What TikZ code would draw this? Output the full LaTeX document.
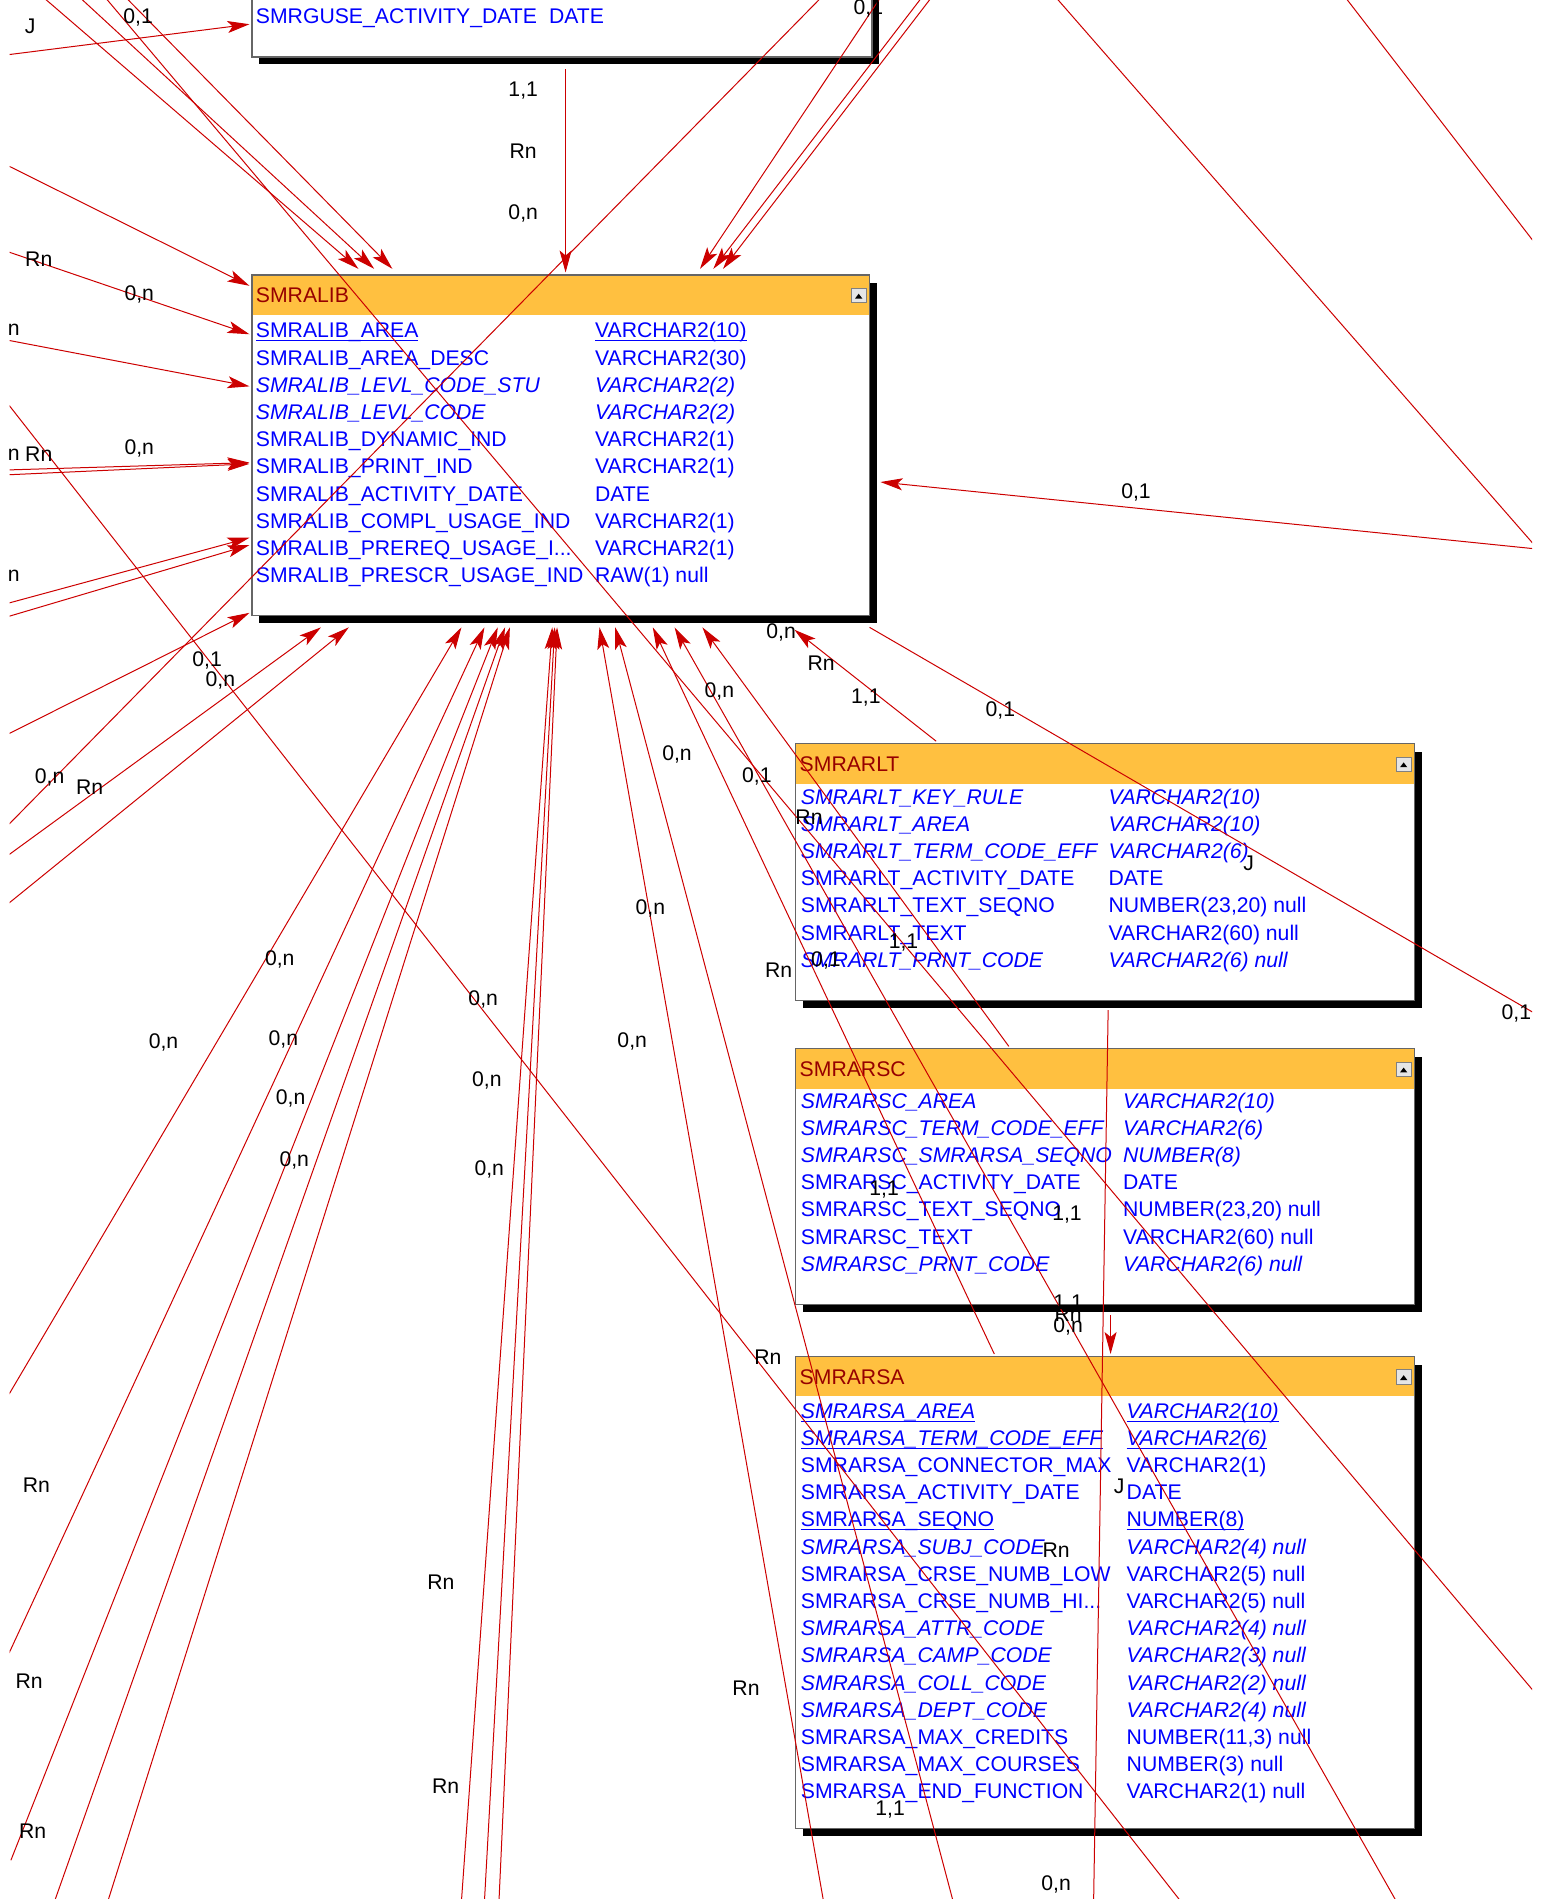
\documentclass[tikz,border=0pt]{standalone}
\usepackage{fontspec}
\setmainfont{Liberation Sans}
\usetikzlibrary{arrows.meta,fit}

\definecolor{hdrfill}{RGB}{255,192,64}
\definecolor{hdrtext}{RGB}{150,0,0}
\definecolor{fldtext}{RGB}{0,0,255}
\definecolor{relline}{RGB}{204,0,0}

\newcommand{\erfont}{\fontsize{10.6}{12}\selectfont}
\newcommand{\cut}{{.}{.}{.}}
\newcommand{\keyul}[1]{\underline{\smash{#1}}}

\tikzset{
  tblbody/.style={fill=white, inner sep=0pt},
  tblname/.style={anchor=base west, inner sep=0pt, text=hdrtext, font=\erfont},
  fld/.style={anchor=base west, inner sep=0pt, text=fldtext, font=\erfont},
  card/.style={inner sep=0pt, font=\erfont},
  rel/.style={draw=relline, line width=0.5pt},
  relarr/.style={rel, -{Stealth[length=11pt,width=6pt,inset=2.5pt]}},
}

% table frame: name, left, top, right, bottom, title
\newcommand{\tblframe}[6]{%
  \fill (#2+6,#3+7) rectangle (#4+6,#5+6);
  \node[tblbody, fit={(#2,#3) (#4,#5)}] (#1) {};
  \fill[hdrfill] (#2,#3) rectangle (#4,#3+33);
  \draw[black!60, line width=0.6pt] (#2,#3) rectangle (#4,#5);
  \node[tblname] (#1-title) at (#2+3,#3+23) {#6};
  \draw[gray, fill=gray!20] (#4-15,#3+11) rectangle (#4-3,#3+23);
  \fill (#4-12,#3+19.5) -- (#4-6,#3+19.5) -- (#4-9,#3+15.5) -- cycle;
}
% table rows: name, x of field, x of type, y of first row, list
\newcommand{\tblrows}[5]{%
  \foreach \nm/\ty [count=\k from 0] in {#5} {
    \node[fld] (#1-n\k) at (#2,#4+6+22.45*\k) {\nm};
    \node[fld] (#1-t\k) at (#3,#4+6+22.45*\k) {\ty};
  }
}

\begin{document}
\begin{tikzpicture}[x=0.6057pt, y=-0.6057pt]
\useasboundingbox (0,0) rectangle (1273,1568);
\clip (8,0) rectangle (1265,1568);

% --- tables
\fill (214,-200) rectangle (726,53);
\node[tblbody, fit={(208,-200) (720,47)}] (guse) {};
\draw[black!60, line width=0.6pt] (208,-200) rectangle (720,47);
\node[fld] (guse-n0) at (211,19) {SMRGUSE\_ACTIVITY\_DATE};
\node[fld] (guse-t0) at (453,19) {DATE};

\tblframe{lib}{208}{227}{718}{508}{SMRALIB}
\tblrows{lib}{211}{491}{273}{%
  \keyul{SMRALIB\_AREA}/\keyul{VARCHAR2(10)},
  SMRALIB\_AREA\_DESC/VARCHAR2(30),
  \textit{SMRALIB\_LEVL\_CODE\_STU}/\textit{VARCHAR2(2)},
  \textit{SMRALIB\_LEVL\_CODE}/\textit{VARCHAR2(2)},
  SMRALIB\_DYNAMIC\_IND/VARCHAR2(1),
  SMRALIB\_PRINT\_IND/VARCHAR2(1),
  SMRALIB\_ACTIVITY\_DATE/DATE,
  SMRALIB\_COMPL\_USAGE\_IND/VARCHAR2(1),
  SMRALIB\_PREREQ\_USAGE\_I\cut/VARCHAR2(1),
  SMRALIB\_PRESCR\_USAGE\_IND/RAW(1) null}

\tblframe{lt}{657}{614}{1168}{826}{SMRARLT}
\tblrows{lt}{661}{915}{658}{%
  \textit{SMRARLT\_KEY\_RULE}/\textit{VARCHAR2(10)},
  \textit{SMRARLT\_AREA}/\textit{VARCHAR2(10)},
  \textit{SMRARLT\_TERM\_CODE\_EFF}/\textit{VARCHAR2(6)},
  SMRARLT\_ACTIVITY\_DATE/DATE,
  SMRARLT\_TEXT\_SEQNO/{NUMBER(23,20) null},
  SMRARLT\_TEXT/VARCHAR2(60) null,
  \textit{SMRARLT\_PRNT\_CODE}/\textit{VARCHAR2(6) null}}

\tblframe{sc}{657}{866}{1168}{1077}{SMRARSC}
\tblrows{sc}{661}{927}{909}{%
  \textit{SMRARSC\_AREA}/\textit{VARCHAR2(10)},
  \textit{SMRARSC\_TERM\_CODE\_EFF}/\textit{VARCHAR2(6)},
  \textit{SMRARSC\_SMRARSA\_SEQNO}/\textit{NUMBER(8)},
  SMRARSC\_ACTIVITY\_DATE/DATE,
  SMRARSC\_TEXT\_SEQNO/{NUMBER(23,20) null},
  SMRARSC\_TEXT/VARCHAR2(60) null,
  \textit{SMRARSC\_PRNT\_CODE}/\textit{VARCHAR2(6) null}}

\tblframe{sa}{657}{1120}{1168}{1510}{SMRARSA}
\tblrows{sa}{661}{930}{1165}{%
  \keyul{\textit{SMRARSA\_AREA}}/\keyul{\textit{VARCHAR2(10)}},
  \keyul{\textit{SMRARSA\_TERM\_CODE\_EFF}}/\keyul{\textit{VARCHAR2(6)}},
  SMRARSA\_CONNECTOR\_MAX/VARCHAR2(1),
  SMRARSA\_ACTIVITY\_DATE/DATE,
  \keyul{SMRARSA\_SEQNO}/\keyul{NUMBER(8)},
  \textit{SMRARSA\_SUBJ\_CODE}/\textit{VARCHAR2(4) null},
  SMRARSA\_CRSE\_NUMB\_LOW/VARCHAR2(5) null,
  SMRARSA\_CRSE\_NUMB\_HI\cut/VARCHAR2(5) null,
  \textit{SMRARSA\_ATTR\_CODE}/\textit{VARCHAR2(4) null},
  \textit{SMRARSA\_CAMP\_CODE}/\textit{VARCHAR2(3) null},
  \textit{SMRARSA\_COLL\_CODE}/\textit{VARCHAR2(2) null},
  \textit{SMRARSA\_DEPT\_CODE}/\textit{VARCHAR2(4) null},
  SMRARSA\_MAX\_CREDITS/{NUMBER(11,3) null},
  SMRARSA\_MAX\_COURSES/NUMBER(3) null,
  SMRARSA\_END\_FUNCTION/VARCHAR2(1) null}

% --- connector ends on the tables
\coordinate (guse-w) at (206,20);
\coordinate (guse-s) at (467,57);
\coordinate (lib-n1) at (296,222);
\coordinate (lib-n2) at (309,222);
\coordinate (lib-n3) at (324,222);
\coordinate (lib-n4) at (467,225);
\coordinate (lib-n5) at (578,222);
\coordinate (lib-n6) at (589,222);
\coordinate (lib-n7) at (597,222);
\coordinate (lib-w1) at (206,236);
\coordinate (lib-w2) at (206,276);
\coordinate (lib-w3) at (206,319);
\coordinate (lib-w4) at (206,382);
\coordinate (lib-w5) at (206,383);
\coordinate (lib-w6) at (206,444);
\coordinate (lib-w7) at (206,450);
\coordinate (lib-w8) at (206,506);
\coordinate (lib-w9) at (265,518);
\coordinate (lib-w10) at (288,518);
\coordinate (lib-s1) at (381,518);
\coordinate (lib-s2) at (400,518);
\coordinate (lib-s3) at (411,518);
\coordinate (lib-s4) at (417,518);
\coordinate (lib-s5) at (421,518);
\coordinate (lib-s6) at (456,518);
\coordinate (lib-s7) at (458,518);
\coordinate (lib-s8) at (460,518);
\coordinate (lib-s9) at (495,518);
\coordinate (lib-s10) at (508,518);
\coordinate (lib-s11) at (539,518);
\coordinate (lib-s12) at (557,518);
\coordinate (lib-s13) at (580,518);
\coordinate (lib-s14) at (656,520);
\coordinate (lib-e) at (727,398);
\coordinate (lib-c) at (718,518);
\coordinate (lt-n) at (773,612);
\coordinate (lt-s) at (915,834);
\coordinate (sc-n) at (833,864);
\coordinate (sc-s) at (917,1086);
\coordinate (sa-n1) at (821,1118);
\coordinate (sa-n2) at (917,1118);

% --- free ends at the picture edge
\coordinate (fJ) at (8,45);
\coordinate (fT1) at (36,-2);
\coordinate (fT2) at (66,-2);
\coordinate (fT3) at (104,-2);
\coordinate (fT5) at (727,-2);
\coordinate (fT6) at (761,-2);
\coordinate (fT7) at (769,-2);
\coordinate (fE1) at (1266,453);
\coordinate (fW1) at (7,137);
\coordinate (fW2) at (7,208);
\coordinate (fW3) at (7,281);
\coordinate (fW4) at (7,388);
\coordinate (fW5) at (7,392);
\coordinate (fW6) at (7,498);
\coordinate (fW7) at (7,509);
\coordinate (fW8) at (7,606);
\coordinate (fW9) at (7,706);
\coordinate (fW10) at (7,746);
\coordinate (fS1) at (7,1152);
\coordinate (fS2) at (7,1366);
\coordinate (fS3) at (9,1536);
\coordinate (fS4) at (45,1570);
\coordinate (fS5) at (89,1570);
\coordinate (fS6) at (381,1570);
\coordinate (fS7) at (400,1570);
\coordinate (fS8) at (412,1570);
\coordinate (fS9) at (680,1570);
\coordinate (fS10) at (787,1570);
\coordinate (fS11) at (1153,1570);
\coordinate (fA1) at (87,-2);
\coordinate (fA2) at (1266,1396);
\coordinate (fB1) at (678,-2);
\coordinate (fB2) at (7,681);
\coordinate (fC1) at (872,-2);
\coordinate (fC2) at (1266,449);
\coordinate (fD1) at (1111,-2);
\coordinate (fD2) at (1266,199);
\coordinate (fG1) at (7,334);
\coordinate (fG2) at (975,1570);
\coordinate (fH2) at (1266,836);
\coordinate (fK2) at (903,1570);

% --- relations
\foreach \a/\b in {fJ/guse-w, fT1/lib-n1, fT2/lib-n2, fT3/lib-n3, guse-s/lib-n4,
    fT5/lib-n5, fT6/lib-n6, fT7/lib-n7, fE1/lib-e,
    fW1/lib-w1, fW2/lib-w2, fW3/lib-w3, fW4/lib-w4, fW5/lib-w5,
    fW6/lib-w6, fW7/lib-w7, fW8/lib-w8, fW9/lib-w9, fW10/lib-w10,
    fS1/lib-s1, fS2/lib-s2, fS3/lib-s3, fS4/lib-s4, fS5/lib-s5,
    fS6/lib-s6, fS7/lib-s7, fS8/lib-s8, fS9/lib-s9, fS10/lib-s10,
    sa-n1/lib-s11, fS11/lib-s12, sc-n/lib-s13, lt-n/lib-s14, sc-s/sa-n2}
  \draw[relarr] (\a) -- (\b);
\foreach \a/\b in {fA1/fA2, fB1/fB2, fC1/fC2, fD1/fD2, fG1/fG2, lib-c/fH2, lt-s/fK2}
  \draw[rel] (\a) -- (\b);

% --- cardinalities
\foreach \t/\x/\y [count=\i] in {J/25/22, {0,1}/114/14, {1,1}/432/75, Rn/432/125,
    {0,n}/432/176, {0,1}/717/7, Rn/32/214, {0,n}/115/243, {0,n}/4/272,
    {0,n}/4/375, Rn/32/375, {0,n}/115/370, {0,n}/4/475, {0,1}/938/407,
    {0,n}/645/522, Rn/678/548, {1,1}/715/576, {0,1}/826/587,
    {0,1}/171/545, {0,n}/182/562, {0,n}/41/642, Rn/74/650,
    {0,n}/594/571, {0,n}/559/623, {0,1}/625/641, Rn/668/675, J/1031/713,
    {0,n}/537/750, {1,1}/746/778, {0,1}/682/793, Rn/643/801,
    {0,n}/231/792, {0,n}/399/825, {0,n}/135/861, {0,n}/234/858,
    {0,n}/522/860, {0,n}/402/892, {0,n}/240/907, {0,n}/243/958,
    {0,n}/404/966, {0,1}/1252/837, {1,1}/730/982, {1,1}/881/1003,
    {1,1}/882/1076, Rn/882/1085, {0,n}/882/1095, Rn/634/1121,
    Rn/30/1226, J/924/1227, Rn/872/1280, Rn/364/1306, Rn/24/1388,
    Rn/616/1394, Rn/368/1475, {1,1}/735/1494, Rn/27/1512, {0,n}/872/1556}
  \node[card] (card\i) at (\x,\y) {\t};
\end{tikzpicture}
\end{document}
